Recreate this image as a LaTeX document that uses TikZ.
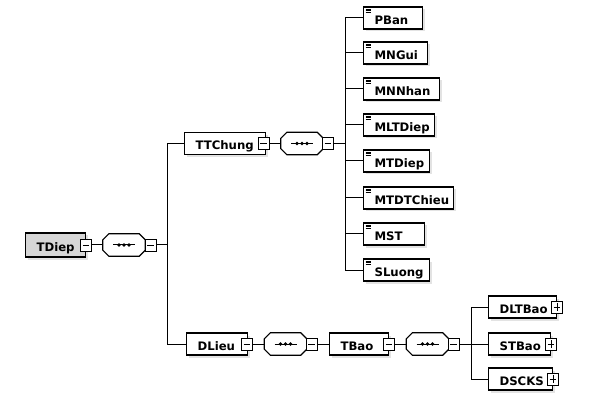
\documentclass[tikz,border=0pt]{standalone}
\usepackage{fontspec}
\setmainfont{DejaVu Sans}
\usetikzlibrary{shadows}
\newcommand\lbox[2]{\hbox to #1pt{\hskip 11pt #2\hss}}
\begin{document}
\begin{tikzpicture}[x=1pt,y=-1pt,
  conn/.style={line width=1pt},
  elem/.style={draw, line width=1.2pt, fill=white, minimum height=22pt, anchor=west,
    inner xsep=0pt, inner ysep=0pt, text height=12.5pt, text depth=0pt,
    font=\fontsize{11.7pt}{13pt}\selectfont\bfseries,
    general shadow={fill=gray!22, shadow xshift=2.5pt, shadow yshift=-2.5pt}},
  leaf/.style={elem, path picture={
    \foreach \k in {2,3.5,5}
      \draw[line width=0.7pt] ([shift={(2,\k)}]path picture bounding box.north west) -- ++(5.5,0);}},
  root/.style={elem, fill=gray!32, minimum height=24pt},
  boxm/.style={draw, fill=white, line width=0.9pt, minimum width=11pt, minimum height=12pt,
    inner sep=0pt, path picture={
    \draw[line width=0.9pt] ([xshift=2.2pt]path picture bounding box.west) -- ([xshift=-2.2pt]path picture bounding box.east);}},
  boxp/.style={boxm, path picture={
    \draw[line width=0.9pt] ([xshift=2.2pt]path picture bounding box.west) -- ([xshift=-2.2pt]path picture bounding box.east);
    \draw[line width=0.9pt] ([yshift=2.2pt]path picture bounding box.south) -- ([yshift=-2.2pt]path picture bounding box.north);}},
  seqbox/.style={minimum width=42pt, minimum height=22pt, inner sep=0pt},
  octo/.style={line width=1.2pt, fill=white, draw},
  octshadow/.style={fill=gray!20}
]
\useasboundingbox (0,0) rectangle (597,406);

% sequence compositors (drawn first)
\node[seqbox] (s1) at (124,245) {};
\node[seqbox] (s2) at (302,143.5) {};
\node[seqbox] (s3) at (285.5,344) {};
\node[seqbox] (s4) at (427.5,344) {};
\foreach \s in {s1,s2,s3,s4} {
  \foreach \sh/\st in {2/octshadow,0/octo} {
    \path[\st, shift={(\sh,\sh)}]
      ([xshift=6pt]\s.north west) -- ([xshift=-6pt]\s.north east)
      -- ([yshift=-6pt]\s.north east) -- ([yshift=6pt]\s.south east)
      -- ([xshift=-6pt]\s.south east) -- ([xshift=6pt]\s.south west)
      -- ([yshift=6pt]\s.south west) -- ([yshift=-6pt]\s.north west) -- cycle;
  }
  \draw[line width=1pt] ([xshift=-11pt]\s.center) -- ([xshift=11pt]\s.center);
  \foreach \d in {-5,0,5} \fill ([xshift=\d pt]\s.center) circle (1.8pt);
}

% root
\node[root] (TDiep) at (25,245) {\lbox{60}{TDiep}};
\node[boxm] (mTDiep) at (86,245) {};
\node[boxm] (ms1) at (150.5,245) {};

% level 1
\node[elem] (TTChung) at (184,143.5) {\lbox{81}{TTChung}};
\node[boxm] (mTTChung) at (263.5,143.5) {};
\node[boxm] (ms2) at (328,143.5) {};

\node[elem] (DLieu) at (186,344) {\lbox{61}{DLieu}};
\node[boxm] (mDLieu) at (247,344) {};
\node[boxm] (ms3) at (311.5,344) {};

\node[elem] (TBao) at (329,344) {\lbox{59}{TBao}};
\node[boxm] (mTBao) at (389,344) {};
\node[boxm] (ms4) at (453.5,344) {};

% leaves of TTChung
\node[leaf] (PBan) at (363,18) {\lbox{59}{PBan}};
\node[leaf] (MNGui) at (363,53) {\lbox{64}{MNGui}};
\node[leaf] (MNNhan) at (363,89) {\lbox{76}{MNNhan}};
\node[leaf] (MLTDiep) at (363,125) {\lbox{71}{MLTDiep}};
\node[leaf] (MTDiep) at (363,161) {\lbox{66}{MTDiep}};
\node[leaf] (MTDTChieu) at (363,198) {\lbox{90}{MTDTChieu}};
\node[leaf] (MST) at (363,234) {\lbox{61}{MST}};
\node[leaf] (SLuong) at (363,270) {\lbox{66}{SLuong}};

% children of TBao
\node[elem] (DLTBao) at (488,307) {\lbox{68}{DLTBao}};
\node[boxp] (pDLTBao) at (557,307) {};
\node[elem] (STBao) at (488,344) {\lbox{62}{STBao}};
\node[boxp] (pSTBao) at (551,344) {};
\node[elem] (DSCKS) at (488,379) {\lbox{64}{DSCKS}};
\node[boxp] (pDSCKS) at (553,379) {};

% bus coordinates
\coordinate (b1) at (167,0);
\coordinate (b2) at (345,0);
\coordinate (b3) at (471,0);

% connectors
\draw[conn] (mTDiep.east) -- (s1.west);
\draw[conn] (ms1.east) -- (b1 |- ms1.east);
\draw[conn] (b1 |- TTChung.west) -- (b1 |- DLieu.west);
\draw[conn] (b1 |- TTChung.west) -- (TTChung.west);
\draw[conn] (b1 |- DLieu.west) -- (DLieu.west);

\draw[conn] (mTTChung.east) -- (s2.west);
\draw[conn] (ms2.east) -- (b2 |- ms2.east);
\draw[conn] (b2 |- PBan.west) -- (b2 |- SLuong.west);
\foreach \n in {PBan,MNGui,MNNhan,MLTDiep,MTDiep,MTDTChieu,MST,SLuong}
  \draw[conn] (b2 |- \n.west) -- (\n.west);

\draw[conn] (mDLieu.east) -- (s3.west);
\draw[conn] (ms3.east) -- (TBao.west);
\draw[conn] (mTBao.east) -- (s4.west);
\draw[conn] (ms4.east) -- (b3 |- ms4.east);
\draw[conn] (b3 |- DLTBao.west) -- (b3 |- DSCKS.west);
\foreach \n in {DLTBao,STBao,DSCKS}
  \draw[conn] (b3 |- \n.west) -- (\n.west);
\end{tikzpicture}
\end{document}
